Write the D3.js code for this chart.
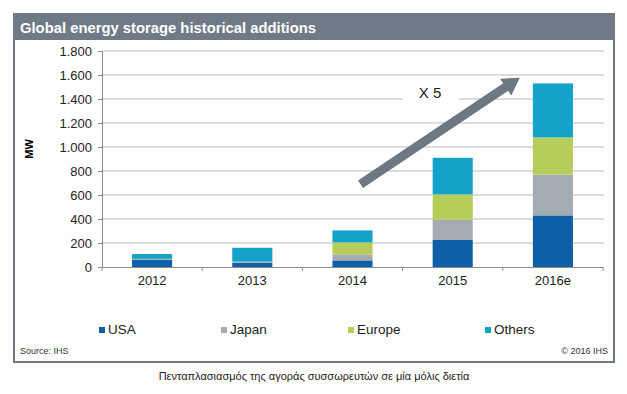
<!DOCTYPE html>
<html>
<head>
<meta charset="utf-8">
<script src="https://cdn.jsdelivr.net/npm/d3@7"></script>
<style>
  body { margin: 0; background: #fff; }
  svg text { font-family: "Liberation Sans", Arial, sans-serif; }
</style>
</head>
<body>
<div id="chart"></div>
<script>
// data
const years = ['2012', '2013', '2014', '2015', '2016e'];
const usa    = [60, 35, 55, 225, 430];
const japan  = [8, 10, 50, 170, 340];
const europe = [0, 0, 100, 210, 310];
const others = [40, 115, 100, 305, 450];
const seriesNames = ['USA', 'Japan', 'Europe', 'Others'];
const yTicks = [0, 200, 400, 600, 800, 1000, 1200, 1400, 1600, 1800];

const colors = {
  USA: '#0d5fa8',
  Japan: '#a4abb1',
  Europe: '#b6cd5c',
  Others: '#14a3c8'
};

var width = 627,
    height = 394;

var svg = d3.select('#chart')
            .append('svg')
            .attr('width', width)
            .attr('height', height);

// frame + title bar
svg.append('rect')
   .attr('x', 14).attr('y', 14)
   .attr('width', 600).attr('height', 348)
   .attr('fill', '#fff')
   .attr('stroke', '#6f7a86')
   .attr('stroke-width', 2);

svg.append('rect')
   .attr('x', 14).attr('y', 14)
   .attr('width', 600).attr('height', 26)
   .attr('fill', '#6f7a86');

svg.append('text')
   .attr('x', 20).attr('y', 33)
   .style('font-size', '14.8px')
   .style('font-weight', 'bold')
   .style('fill', '#fff')
   .text('Global energy storage historical additions');

// scales
var xScale = d3.scaleBand()
               .domain(years)
               .range([102, 603])
               .paddingInner(0.6)
               .paddingOuter(0.3);

var yScale = d3.scaleLinear()
               .domain([0, 1800])
               .range([267, 51]);

var locale = d3.formatLocale({ decimal: ',', thousands: '.', grouping: [3], currency: ['', ''] });
var fmt = locale.format(',');

// gridlines
svg.append('g')
   .selectAll('line')
   .data(yTicks.filter(d => d > 0))
   .enter()
   .append('line')
   .attr('x1', 102)
   .attr('x2', 604)
   .attr('y1', d => yScale(d))
   .attr('y2', d => yScale(d))
   .attr('stroke', '#bcbcbc')
   .attr('stroke-width', 1);

// y axis
var yAxis = d3.axisLeft(yScale)
              .tickValues(yTicks)
              .tickFormat(fmt)
              .tickSize(4)
              .tickPadding(6);

var yG = svg.append('g')
            .attr('transform', 'translate(102, 0)')
            .call(yAxis);
yG.select('.domain').attr('stroke', '#8c8c8c');
yG.selectAll('.tick line').attr('stroke', '#8c8c8c');
yG.selectAll('text')
  .style('font-size', '13px')
  .style('font-family', '"Liberation Sans", Arial, sans-serif')
  .style('fill', '#222');

svg.append('text')
   .attr('transform', 'rotate(-90)')
   .attr('x', -149)
   .attr('y', 33)
   .attr('text-anchor', 'middle')
   .style('font-size', '11px')
   .style('font-weight', 'bold')
   .text('MW');

// x axis
var xAxis = d3.axisBottom(xScale).tickSize(0).tickPadding(9);
var xG = svg.append('g')
            .attr('transform', 'translate(0, 267)')
            .call(xAxis);
xG.select('.domain').attr('stroke', '#8c8c8c');
xG.selectAll('text')
  .style('font-size', '13px')
  .style('font-family', '"Liberation Sans", Arial, sans-serif')
  .style('fill', '#222');

// boundary tick marks between categories
var step = xScale.step();
svg.append('g')
   .selectAll('line')
   .data(years.concat(['end']))
   .enter()
   .append('line')
   .attr('x1', (d, i) => xScale.range()[0] + i * step)
   .attr('x2', (d, i) => xScale.range()[0] + i * step)
   .attr('y1', 267)
   .attr('y2', 271)
   .attr('stroke', '#8c8c8c');

// stacked bars
var table = years.map(function(y, i) {
  return { year: y, USA: usa[i], Japan: japan[i], Europe: europe[i], Others: others[i] };
});
var stack = d3.stack().keys(seriesNames)(table);

svg.append('g')
   .selectAll('g')
   .data(stack)
   .enter()
   .append('g')
   .attr('fill', d => colors[d.key])
   .selectAll('rect')
   .data(d => d)
   .enter()
   .append('rect')
   .attr('x', d => xScale(d.data.year))
   .attr('y', d => yScale(d[1]))
   .attr('width', xScale.bandwidth())
   .attr('height', d => yScale(d[0]) - yScale(d[1]));

// "X 5" growth arrow
var arrowFrom = { year: '2014', off: 0.08, value: 690 };
var arrowTo = { year: '2016e', off: -0.33, value: 1578 };
var p0 = [xScale(arrowFrom.year) + xScale.bandwidth() / 2 + arrowFrom.off * step, yScale(arrowFrom.value)];
var p1 = [xScale(arrowTo.year) + xScale.bandwidth() / 2 + arrowTo.off * step, yScale(arrowTo.value)];
var dx = p1[0] - p0[0], dy = p1[1] - p0[1];
var len = Math.sqrt(dx * dx + dy * dy);
var ux = dx / len, uy = dy / len, nx = -uy, ny = ux;
var shaftW = 4.5, headW = 10, headL = 17;
var hb = [p1[0] - ux * headL, p1[1] - uy * headL];
var pts = [
  [p0[0] + nx * shaftW, p0[1] + ny * shaftW],
  [hb[0] + nx * shaftW, hb[1] + ny * shaftW],
  [hb[0] + nx * headW, hb[1] + ny * headW],
  p1,
  [hb[0] - nx * headW, hb[1] - ny * headW],
  [hb[0] - nx * shaftW, hb[1] - ny * shaftW],
  [p0[0] - nx * shaftW, p0[1] - ny * shaftW]
];

svg.append('rect')
   .attr('x', 403).attr('y', yScale(1400) - 4)
   .attr('width', 56).attr('height', 8)
   .attr('fill', '#fff');

svg.append('text')
   .attr('x', 430)
   .attr('y', 98)
   .attr('text-anchor', 'middle')
   .style('font-size', '15px')
   .style('fill', '#222')
   .text('X 5');

svg.append('path')
   .attr('d', d3.line()(pts) + 'Z')
   .attr('fill', '#6e7883');

// legend
var legendX = [99, 221, 348, 485];
var legend = svg.append('g')
                .selectAll('g')
                .data(seriesNames)
                .enter()
                .append('g')
                .attr('transform', (d, i) => 'translate(' + legendX[i] + ', 327)');
legend.append('rect')
      .attr('width', 6).attr('height', 6)
      .attr('fill', d => colors[d]);
legend.append('text')
      .attr('x', 9).attr('y', 6.5)
      .style('font-size', '13.5px')
      .style('fill', '#222')
      .text(d => d);

// source + copyright
svg.append('text')
   .attr('x', 20).attr('y', 354)
   .style('font-size', '9px')
   .style('fill', '#333')
   .text('Source: IHS');
svg.append('text')
   .attr('x', 608).attr('y', 354)
   .attr('text-anchor', 'end')
   .style('font-size', '9px')
   .style('fill', '#333')
   .text('© 2016 IHS');

// caption under the frame
svg.append('text')
   .attr('x', 314).attr('y', 380)
   .attr('text-anchor', 'middle')
   .style('font-size', '11px')
   .style('fill', '#222')
   .text('Πενταπλασιασμός της αγοράς συσσωρευτών σε μία μόλις διετία');
</script>
</body>
</html>
